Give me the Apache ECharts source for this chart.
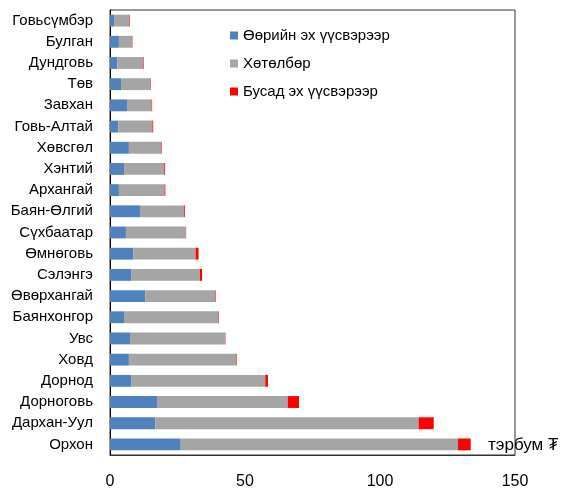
<!DOCTYPE html>
<html>
<head>
<meta charset="utf-8">
<script src="https://cdn.jsdelivr.net/npm/echarts@6/dist/echarts.min.js"></script>
<style>
  html, body { margin: 0; padding: 0; background: #fff; }
  #chart { width: 562px; height: 489px; }
</style>
</head>
<body>
<div id="chart"></div>
<script>
// аймгууд (дээрээс доош)
const aimags = ['Говьсүмбэр', 'Булган', 'Дундговь', 'Төв', 'Завхан', 'Говь-Алтай', 'Хөвсгөл',
  'Хэнтий', 'Архангай', 'Баян-Өлгий', 'Сүхбаатар', 'Өмнөговь', 'Сэлэнгэ', 'Өвөрхангай',
  'Баянхонгор', 'Увс', 'Ховд', 'Дорнод', 'Дорноговь', 'Дархан-Уул', 'Орхон']

// тэрбум ₮
const own = [1.5, 3.3, 2.7, 4.1, 6.3, 3.1, 7.0, 5.2, 3.3, 11.1, 5.9, 8.6, 8.0, 13.1, 5.2, 7.4, 7.0, 8.0, 17.4, 16.8, 26.2]
const program = [5.7, 4.8, 9.6, 10.8, 9.1, 12.6, 12.0, 14.9, 16.9, 16.4, 22.2, 23.1, 25.3, 25.9, 34.9, 35.3, 39.8, 49.5, 48.4, 97.5, 102.7]
const other = [0.2, 0.2, 0.2, 0.2, 0.2, 0.3, 0.2, 0.3, 0.3, 0.3, 0.1, 1.1, 0.8, 0.2, 0.2, 0.1, 0.2, 1.0, 4.2, 5.6, 4.7]

const xTicks = [0, 50, 100, 150]

const chart = echarts.init(document.getElementById('chart'))
const font = 'Liberation Sans, Arial, sans-serif'

chart.setOption({
  animation: false,
  textStyle: { fontFamily: font },
  grid: {
    left: 110, right: 47, top: 10, bottom: 34,
    outerBoundsMode: 'none',
    show: true, borderColor: '#333', borderWidth: 1,
  },
  legend: {
    orient: 'vertical',
    left: 225,
    top: 23,
    itemWidth: 8,
    itemHeight: 8,
    itemGap: 13,
    icon: 'rect',
    textStyle: { fontSize: 15, color: '#000', fontFamily: font },
    data: ['Өөрийн эх үүсвэрээр', 'Хөтөлбөр', 'Бусад эх үүсвэрээр'],
  },
  xAxis: {
    type: 'value',
    min: xTicks[0],
    max: xTicks[xTicks.length - 1],
    interval: 50,
    splitLine: { show: false },
    axisLine: { show: true, lineStyle: { color: '#333' } },
    axisTick: { show: false },
    axisLabel: { fontSize: 16, color: '#000', margin: 19 },
  },
  yAxis: {
    type: 'category',
    inverse: true,
    data: aimags,
    axisLine: { show: true, lineStyle: { color: '#000' } },
    axisTick: { show: false },
    axisLabel: { fontSize: 15, color: '#000', margin: 17 },
  },
  graphic: [
    {
      type: 'text',
      left: 488,
      top: 437,
      style: { text: 'тэрбум ₮', fontSize: 17, fill: '#000', fontFamily: font },
    },
  ],
  series: [
    {
      name: 'Өөрийн эх үүсвэрээр',
      type: 'bar',
      stack: 'total',
      barCategoryGap: '44%',
      data: own,
      itemStyle: { color: '#4F81BD' },
    },
    {
      name: 'Хөтөлбөр',
      type: 'bar',
      stack: 'total',
      data: program,
      itemStyle: { color: '#A5A5A5' },
    },
    {
      name: 'Бусад эх үүсвэрээр',
      type: 'bar',
      stack: 'total',
      data: other,
      itemStyle: { color: '#FF0000' },
    },
  ],
})
</script>
</body>
</html>
